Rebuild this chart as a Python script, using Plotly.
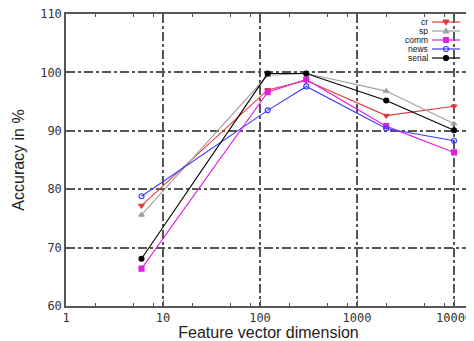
import plotly.graph_objects as go

dims = [6, 120, 300, 2000, 10000]
cr = [77.2, 97.0, 98.6, 92.6, 94.2]
sp = [75.6, 99.5, 99.8, 96.8, 91.2]
comm = [66.4, 96.6, 98.8, 90.8, 86.3]
news = [78.8, 93.5, 97.6, 90.4, 88.3]
serial = [68.1, 99.8, 99.8, 95.2, 90.1]
names = ["cr", "sp", "comm", "news", "serial"]
colors = ["#e03a3a", "#a0a0a0", "#e020e0", "#3a3aff", "#000000"]
symbols = ["triangle-down", "triangle-up", "square", "circle-open", "circle"]
major_ticks = [1, 10, 100, 1000, 10000]
minor_ticks = [m * d for d in [1, 10, 100, 1000] for m in (2, 5, 8)]

fig = go.Figure()
for name, vals, col, sym in zip(names, [cr, sp, comm, news, serial], colors, symbols):
    fig.add_trace(go.Scatter(
        x=dims, y=vals, name=name, mode="lines+markers", showlegend=False,
        line=dict(color=col, width=1.1),
        marker=dict(symbol=sym, size=5, color=col,
                    line=dict(color=col, width=1.1)),
    ))

tickfont = dict(family="DejaVu Sans Mono", size=12, color="#333333")
axis_common = dict(
    showline=True, linecolor="#555555", linewidth=1.5, mirror="ticks",
    showgrid=True, gridcolor="#555555", griddash="dashdot", gridwidth=1.5,
    ticks="inside", ticklen=6, tickcolor="#555555", tickwidth=1.2, zeroline=False,
    tickfont=tickfont, automargin=False, ticklabeloverflow="allow",
)

fig.update_xaxes(type="log", range=[0, 4.175], tickvals=major_ticks,
                 ticktext=[str(v) for v in major_ticks],
                 minor=dict(tickvals=minor_ticks, ticks="inside", ticklen=3,
                            tickcolor="#555555", showgrid=False),
                 title=dict(text="Feature vector dimension",
                            font=dict(family="Liberation Sans", size=16, color="#222222"),
                            standoff=6),
                 **axis_common)
fig.update_yaxes(range=[60, 110], tickvals=[60, 70, 80, 90, 100, 110],
                 title=dict(text="Accuracy in %",
                            font=dict(family="Liberation Sans", size=16, color="#222222"),
                            standoff=12),
                 **axis_common)

# the page body adds an 8px offset; figure coordinates are window coordinates minus 8
OFF = 8
FW, FH = 474 - OFF, 341 - OFF
L, R, T, B = 66 - OFF, 471 - OFF, 14 - OFF, 306 - OFF
W, H = R - L, B - T
def px(x):
    return (x - OFF - L) / W
def py(y):
    return (B - (y - OFF)) / H

# gnuplot-style key: text on the left, sample line + marker on the right
shapes = []
annotations = []
key_y = [22, 31, 40, 49, 58]
marker_paths = {
    "triangle-down": "M-3,2 L3,2 L0,-3 Z",
    "triangle-up": "M-3,-2 L3,-2 L0,3 Z",
    "square": "M-2.5,-2.5 L2.5,-2.5 L2.5,2.5 L-2.5,2.5 Z",
}
for name, col, sym, yk in zip(names, colors, symbols, key_y):
    annotations.append(dict(x=px(429), y=py(yk), xref="paper", yref="paper",
                            text=name, showarrow=False, xanchor="right", yanchor="middle",
                            height=8, borderpad=0, valign="middle",
                            font=dict(family="Liberation Sans Narrow, Liberation Sans",
                                      size=8.5, color="#111111")))
    shapes.append(dict(type="line", xref="paper", yref="paper",
                       x0=px(432), x1=px(460), y0=py(yk), y1=py(yk),
                       line=dict(color=col, width=1.2)))
    if sym in marker_paths:
        shapes.append(dict(type="path", xref="paper", yref="paper",
                           xsizemode="pixel", ysizemode="pixel",
                           xanchor=px(446), yanchor=py(yk), path=marker_paths[sym],
                           fillcolor=col, line=dict(color=col, width=1)))
    else:
        shapes.append(dict(type="circle", xref="paper", yref="paper",
                           xsizemode="pixel", ysizemode="pixel",
                           xanchor=px(446), yanchor=py(yk), x0=-2.5, x1=2.5, y0=-2.5, y1=2.5,
                           fillcolor=("rgba(0,0,0,0)" if "open" in sym else col),
                           line=dict(color=col, width=1.2)))

fig.update_layout(
    width=FW, height=FH,
    margin=dict(l=L, r=FW - R, t=T, b=FH - B, autoexpand=False),
    plot_bgcolor="white", paper_bgcolor="white",
    showlegend=False,
    shapes=shapes, annotations=annotations,
)

fig.write_html("out.html")
